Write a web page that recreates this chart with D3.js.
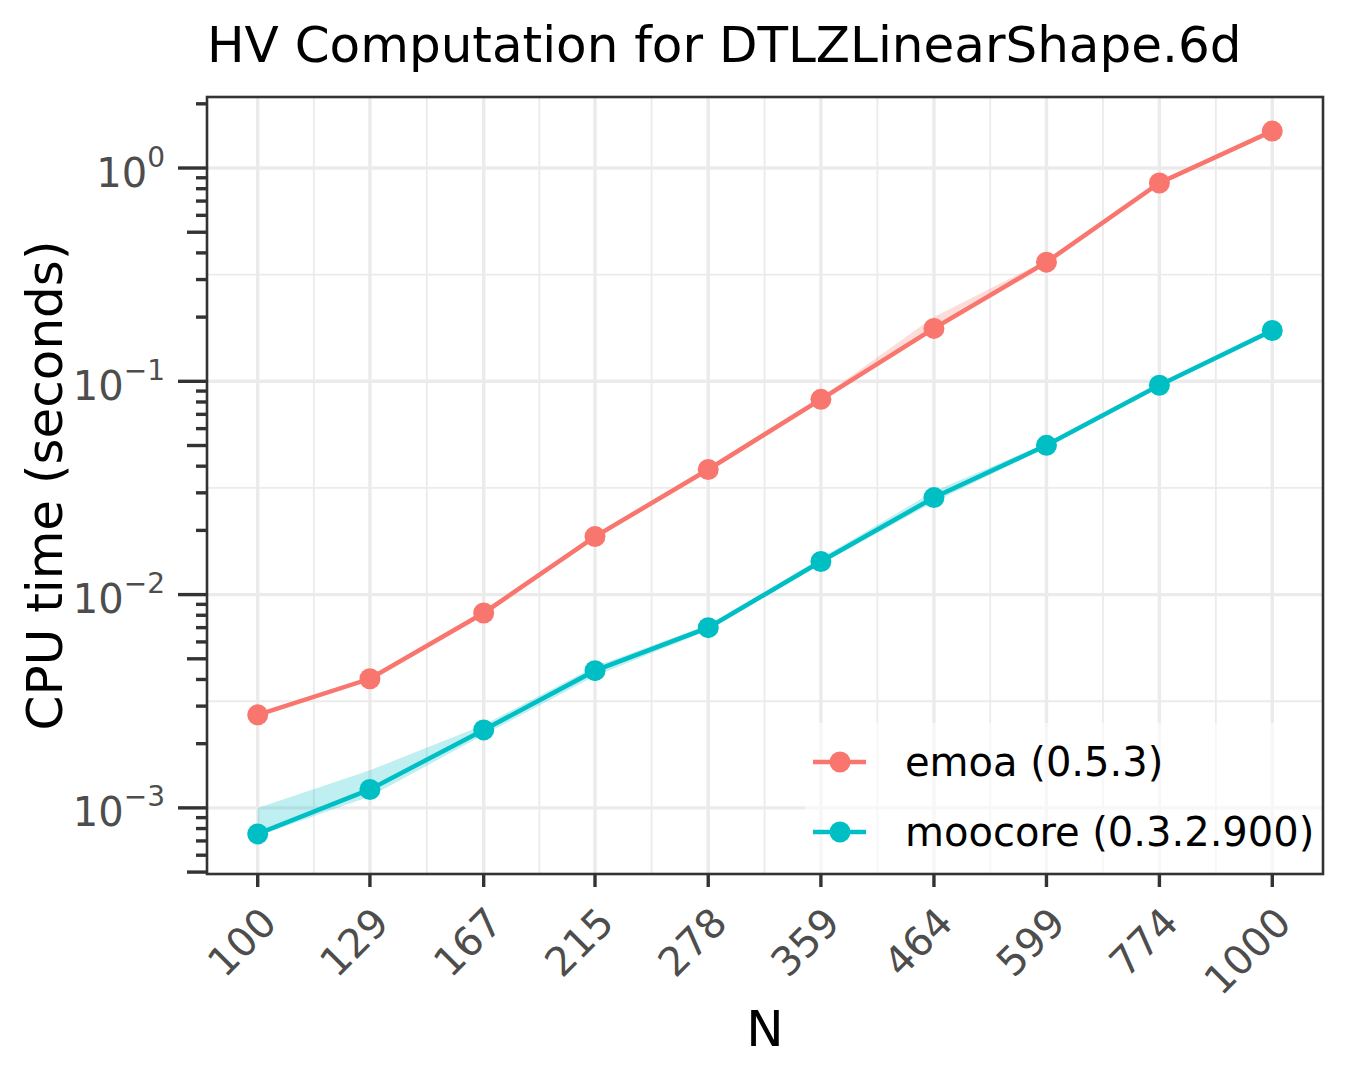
<!DOCTYPE html>
<html>
<head>
<meta charset="utf-8">
<script src="https://cdn.jsdelivr.net/npm/d3@7"></script>
<style>
  body { margin: 0; background: #fff; }
  text { font-family: "DejaVu Sans", sans-serif; }
</style>
</head>
<body>
<div id="chart"></div>
<script>
// data
var nValues = [100, 129, 167, 215, 278, 359, 464, 599, 774, 1000];
var tickLabels = ["100", "129", "167", "215", "278", "359", "464", "599", "774", "1000"];

var emoaTime = [0.00273, 0.00403, 0.0082, 0.0187, 0.0386, 0.0823, 0.177, 0.362, 0.851, 1.49];
var emoaLow  = [0.00268, 0.00395, 0.0080, 0.0183, 0.0378, 0.0805, 0.173, 0.355, 0.835, 1.47];
var emoaHigh = [0.00278, 0.00410, 0.0084, 0.0191, 0.0394, 0.0840, 0.200, 0.370, 0.865, 1.51];

var mooTime = [0.000755, 0.00122, 0.00232, 0.00440, 0.0070, 0.0143, 0.0285, 0.0501, 0.0958, 0.173];
var mooLow  = [0.000740, 0.00113, 0.00220, 0.00415, 0.0068, 0.0139, 0.0272, 0.0490, 0.0940, 0.170];
var mooHigh = [0.00100,  0.00150, 0.00245, 0.00460, 0.0072, 0.0148, 0.0305, 0.0512, 0.0970, 0.176];

var seriesNames = ["emoa (0.5.3)", "moocore (0.3.2.900)"];
var yExponents = [-3, -2, -1, 0];

var colors = ["#F8766D", "#00BFC4"];

var width = 1350, height = 1080;
var panel = {left: 207, right: 1323, top: 97, bottom: 874};

var svg = d3.select("#chart").append("svg")
  .attr("width", width)
  .attr("height", height);

// scales (log x with 5% expansion, log y)
var x = d3.scaleLog()
  .domain([Math.pow(10, 1.95), Math.pow(10, 3.05)])
  .range([panel.left, panel.right]);
var y = d3.scaleLog()
  .domain([Math.pow(10, -3.31), Math.pow(10, 0.333)])
  .range([panel.bottom, panel.top]);

var series = [
  {name: seriesNames[0], mid: emoaTime, lo: emoaLow, hi: emoaHigh, color: colors[0]},
  {name: seriesNames[1], mid: mooTime, lo: mooLow, hi: mooHigh, color: colors[1]}
];

// panel background + grid
svg.append("rect")
  .attr("x", panel.left).attr("y", panel.top)
  .attr("width", panel.right - panel.left)
  .attr("height", panel.bottom - panel.top)
  .attr("fill", "#fff");

var grid = svg.append("g");
var xMinor = [];
for (var i = 0; i < nValues.length - 1; i++) {
  xMinor.push(Math.sqrt(nValues[i] * nValues[i + 1]));
}
var yMinor = yExponents.map(function(e) { return Math.pow(10, e - 0.5); })
  .filter(function(v) { return v >= y.domain()[0] && v <= y.domain()[1]; });

grid.selectAll(".xminor").data(xMinor).enter().append("line")
  .attr("x1", function(d) { return x(d); }).attr("x2", function(d) { return x(d); })
  .attr("y1", panel.top).attr("y2", panel.bottom)
  .attr("stroke", "#ebebeb").attr("stroke-width", 1.8);
grid.selectAll(".yminor").data(yMinor).enter().append("line")
  .attr("y1", function(d) { return y(d); }).attr("y2", function(d) { return y(d); })
  .attr("x1", panel.left).attr("x2", panel.right)
  .attr("stroke", "#ebebeb").attr("stroke-width", 1.8);
grid.selectAll(".xmajor").data(nValues).enter().append("line")
  .attr("x1", function(d) { return x(d); }).attr("x2", function(d) { return x(d); })
  .attr("y1", panel.top).attr("y2", panel.bottom)
  .attr("stroke", "#ebebeb").attr("stroke-width", 3.4);
grid.selectAll(".ymajor").data(yExponents).enter().append("line")
  .attr("y1", function(d) { return y(Math.pow(10, d)); }).attr("y2", function(d) { return y(Math.pow(10, d)); })
  .attr("x1", panel.left).attr("x2", panel.right)
  .attr("stroke", "#ebebeb").attr("stroke-width", 3.4);

// ribbons, lines, points
var area = d3.area()
  .x(function(d) { return x(d.n); })
  .y0(function(d) { return y(d.lo); })
  .y1(function(d) { return y(d.hi); });
var line = d3.line()
  .x(function(d) { return x(d.n); })
  .y(function(d) { return y(d.v); });

series.forEach(function(s) {
  var pts = nValues.map(function(n, i) {
    return {n: n, v: s.mid[i], lo: s.lo[i], hi: s.hi[i]};
  });
  svg.append("path").datum(pts)
    .attr("d", area)
    .attr("fill", s.color).attr("fill-opacity", 0.25);
  s.pts = pts;
});
series.forEach(function(s) {
  svg.append("path").datum(s.pts)
    .attr("d", line)
    .attr("fill", "none")
    .attr("stroke", s.color).attr("stroke-width", 4.5);
  svg.selectAll(null).data(s.pts).enter().append("circle")
    .attr("cx", function(d) { return x(d.n); })
    .attr("cy", function(d) { return y(d.v); })
    .attr("r", 10.5)
    .attr("fill", s.color);
});

// legend inside the panel
var legend = svg.append("g");
legend.append("rect")
  .attr("x", 805).attr("y", 723)
  .attr("width", panel.right - 805).attr("height", panel.bottom - 723)
  .attr("fill", "#fff").attr("fill-opacity", 0.6);
series.forEach(function(s, i) {
  var ly = 762 + i * 70;
  legend.append("line")
    .attr("x1", 813).attr("x2", 866).attr("y1", ly).attr("y2", ly)
    .attr("stroke", s.color).attr("stroke-width", 4.5);
  legend.append("circle")
    .attr("cx", 840).attr("cy", ly).attr("r", 10.5).attr("fill", s.color);
  legend.append("text")
    .attr("x", 905).attr("y", ly + 14)
    .attr("font-size", 40).attr("fill", "#000")
    .text(s.name);
});

// panel border
svg.append("rect")
  .attr("x", panel.left).attr("y", panel.top)
  .attr("width", panel.right - panel.left)
  .attr("height", panel.bottom - panel.top)
  .attr("fill", "none").attr("stroke", "#333333").attr("stroke-width", 2.6);

// y log ticks
var logTicks = [];
for (var e = -4; e <= 0; e++) {
  for (var m = 1; m <= 9; m++) {
    var v = m * Math.pow(10, e);
    if (v >= y.domain()[0] * 0.999 && v <= y.domain()[1]) logTicks.push({v: v, m: m});
  }
}
svg.selectAll(".ytick").data(logTicks).enter().append("line")
  .attr("x1", function(d) { return panel.left - (d.m === 1 ? 29 : d.m === 5 ? 20 : 11); })
  .attr("x2", panel.left)
  .attr("y1", function(d) { return y(d.v); })
  .attr("y2", function(d) { return y(d.v); })
  .attr("stroke", "#333333").attr("stroke-width", 3.4);

var yLab = svg.selectAll(".ylab").data(yExponents).enter().append("text")
  .attr("x", 165)
  .attr("y", function(d) { return y(Math.pow(10, d)) + 18.5; })
  .attr("text-anchor", "end")
  .attr("fill", "#4d4d4d")
  .attr("font-size", 40);
yLab.append("tspan").text("10");
yLab.append("tspan")
  .attr("dy", -20).attr("font-size", 28)
  .text(function(d) { return d < 0 ? "\u2212" + (-d) : String(d); });

// x ticks and labels
svg.selectAll(".xtick").data(nValues).enter().append("line")
  .attr("x1", function(d) { return x(d); }).attr("x2", function(d) { return x(d); })
  .attr("y1", panel.bottom).attr("y2", panel.bottom + 13)
  .attr("stroke", "#333333").attr("stroke-width", 3.4);
svg.selectAll(".xlab").data(nValues).enter().append("text")
  .attr("transform", function(d) { return "translate(" + (x(d) + 21) + "," + 925 + ") rotate(-45)"; })
  .attr("text-anchor", "end")
  .attr("fill", "#4d4d4d")
  .attr("font-size", 40)
  .text(function(d, i) { return tickLabels[i]; });

// titles
svg.append("text")
  .attr("x", 207).attr("y", 62)
  .attr("font-size", 50).attr("fill", "#000")
  .text("HV Computation for DTLZLinearShape.6d");
svg.append("text")
  .attr("x", (panel.left + panel.right) / 2).attr("y", 1046)
  .attr("text-anchor", "middle")
  .attr("font-size", 50).attr("fill", "#000")
  .text("N");
svg.append("text")
  .attr("transform", "translate(62," + ((panel.top + panel.bottom) / 2) + ") rotate(-90)")
  .attr("text-anchor", "middle")
  .attr("font-size", 50).attr("fill", "#000")
  .text("CPU time (seconds)");
</script>
</body>
</html>
